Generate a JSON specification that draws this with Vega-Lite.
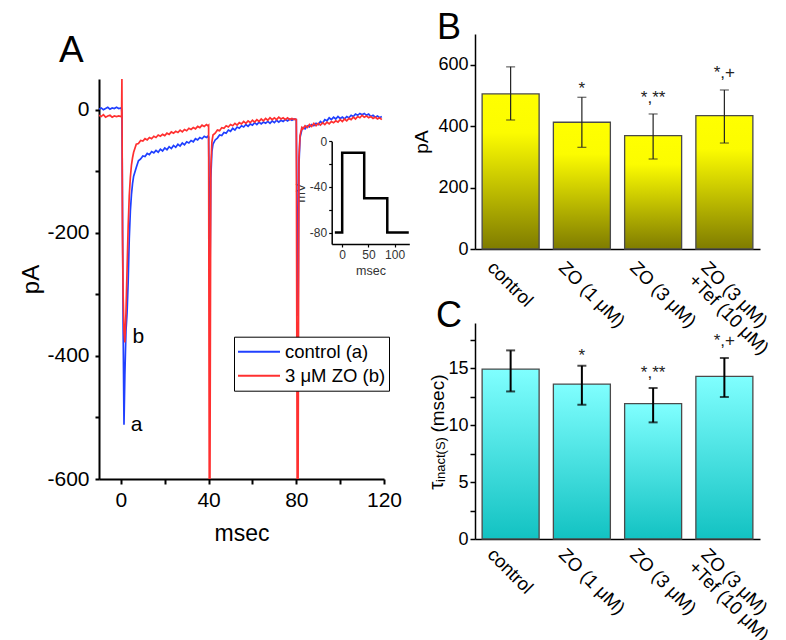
{
"$schema":"https://vega.github.io/schema/vega-lite/v6.json",
"padding":{"left":19,"top":10,"right":5,"bottom":5},
"background":"white",
"config":{
  "font":"Liberation Sans",
  "view":{"stroke":null},
  "axis":{"grid":false,"domainColor":"black","tickColor":"black","labelColor":"black","titleColor":"black","titleFontWeight":"normal","labelFlush":false,"labelOverlap":false,"labelFont":"Liberation Sans","titleFont":"Liberation Sans"},
  "legend":{"labelFont":"Liberation Sans"},
  "title":{"font":"Liberation Sans","fontWeight":"normal","color":"black"},
  "text":{"font":"Liberation Sans"}
},
"bounds":"flush",
"spacing":91,
"hconcat":[
{
"width":285,"height":445,
"title":{"text":"A","anchor":"start","frame":"group","fontSize":37,"dx":-40,"dy":65,"baseline":"alphabetic","offset":0},
"layer":[
 {"layer":[
   {"data":{"values":[
{"t":-10,"c":1,"z":-9},{"t":-9,"c":3,"z":-11},{"t":-8,"c":0,"z":-8},{"t":-7,"c":2,"z":-12},{"t":-6,"c":4,"z":-10},{"t":-5,"c":1,"z":-9},{"t":-4,"c":3,"z":-12},{"t":-3,"c":2,"z":-10},{"t":-2,"c":4,"z":-11},{"t":-1,"c":2,"z":-10},{"t":0,"c":3,"z":-11},{"t":0.3,"c":1,"z":-10},{"t":0.45,"c":-5,"z":50},{"t":0.7,"c":-150,"z":-200},{"t":1.0,"c":-350,"z":-300},{"t":1.4,"c":-512,"z":-360},{"t":1.8,"c":-430,"z":-378},{"t":2.3,"c":-360,"z":-330},{"t":2.8,"c":-330,"z":-260},{"t":3.3,"c":-280,"z":-190},{"t":3.8,"c":-210,"z":-140},{"t":4.3,"c":-165,"z":-110},{"t":4.8,"c":-138,"z":-90},{"t":5.3,"c":-120,"z":-78},{"t":5.8,"c":-108,"z":-69},
{"t":7,"c":-94,"z":-56},{"t":8,"c":-83,"z":-55},{"t":9,"c":-80,"z":-50},{"t":10,"c":-75,"z":-51},{"t":11,"c":-76,"z":-47},{"t":12,"c":-71,"z":-49},{"t":13,"c":-73,"z":-45},{"t":14,"c":-68,"z":-47},{"t":15,"c":-70,"z":-43},{"t":16,"c":-66,"z":-45},{"t":17,"c":-69,"z":-41},{"t":18,"c":-64,"z":-43},{"t":19,"c":-67,"z":-40},{"t":20,"c":-62,"z":-42},{"t":21,"c":-65,"z":-38},{"t":22,"c":-60,"z":-40},{"t":23,"c":-63,"z":-36},{"t":24,"c":-58,"z":-38},{"t":25,"c":-61,"z":-35},{"t":26,"c":-56,"z":-37},{"t":27,"c":-59,"z":-33},{"t":28,"c":-54,"z":-36},{"t":29,"c":-57,"z":-32},{"t":30,"c":-52,"z":-34},{"t":31,"c":-54,"z":-30},{"t":32,"c":-50,"z":-32},{"t":33,"c":-52,"z":-29},{"t":34,"c":-47,"z":-31},{"t":35,"c":-49,"z":-27},{"t":36,"c":-45,"z":-29},{"t":37,"c":-47,"z":-25},{"t":38,"c":-43,"z":-27},{"t":39,"c":-45,"z":-24},{"t":39.7,"c":-43,"z":-26},{"t":40,"c":-44,"z":-25},{"t":40.3,"c":-150,"z":-620},{"t":40.6,"c":-285,"z":-620},{"t":41,"c":-110,"z":-95},{"t":41.5,"c":-68,"z":-52},{"t":42,"c":-56,"z":-41},{"t":43,"c":-49,"z":-38},{"t":44,"c":-46,"z":-33},{"t":45,"c":-41,"z":-34},{"t":46,"c":-42,"z":-29},{"t":47,"c":-37,"z":-30},{"t":48,"c":-38,"z":-26},{"t":49,"c":-33,"z":-28},{"t":50,"c":-35,"z":-24},{"t":51,"c":-30,"z":-26},{"t":52,"c":-33,"z":-22},{"t":53,"c":-28,"z":-25},{"t":54,"c":-30,"z":-21},{"t":55,"c":-26,"z":-23},{"t":56,"c":-28,"z":-19},{"t":57,"c":-24,"z":-22},{"t":58,"c":-27,"z":-18},{"t":59,"c":-23,"z":-21},{"t":60,"c":-25,"z":-17},{"t":61,"c":-21,"z":-20},{"t":62,"c":-24,"z":-16},{"t":63,"c":-20,"z":-19},{"t":64,"c":-23,"z":-15},{"t":65,"c":-20,"z":-18},{"t":66,"c":-22,"z":-14},{"t":67,"c":-19,"z":-17},{"t":68,"c":-22,"z":-13},{"t":69,"c":-18,"z":-16},{"t":70,"c":-21,"z":-13},{"t":71,"c":-17,"z":-16},{"t":72,"c":-20,"z":-12},{"t":73,"c":-17,"z":-15},{"t":74,"c":-19,"z":-13},{"t":75,"c":-16,"z":-16},{"t":76,"c":-18,"z":-13},{"t":77,"c":-15,"z":-16},{"t":78,"c":-17,"z":-14},{"t":79,"c":-15,"z":-16},{"t":79.7,"c":-16,"z":-15},{"t":80,"c":-16,"z":-16},{"t":80.4,"c":-200,"z":-620},{"t":80.8,"c":-335,"z":-620},{"t":81.2,"c":-90,"z":-78},{"t":81.7,"c":-45,"z":-42},{"t":82.5,"c":-33,"z":-29},{"t":83,"c":-29,"z":-31},{"t":84,"c":-31,"z":-26},{"t":85,"c":-26,"z":-29},{"t":86,"c":-28,"z":-24},{"t":87,"c":-24,"z":-27},{"t":88,"c":-26,"z":-22},{"t":89,"c":-22,"z":-26},{"t":90,"c":-24,"z":-22},{"t":91,"c":-19,"z":-25},{"t":92,"c":-22,"z":-21},{"t":93,"c":-16,"z":-24},{"t":94,"c":-18,"z":-20},{"t":95,"c":-13,"z":-23},{"t":96,"c":-16,"z":-19},{"t":97,"c":-12,"z":-21},{"t":98,"c":-15,"z":-18},{"t":99,"c":-11,"z":-20},{"t":100,"c":-14,"z":-16},{"t":101,"c":-12,"z":-19},{"t":102,"c":-15,"z":-15},{"t":103,"c":-11,"z":-18},{"t":104,"c":-13,"z":-14},{"t":105,"c":-9,"z":-16},{"t":106,"c":-11,"z":-12},{"t":107,"c":-7,"z":-15},{"t":108,"c":-9,"z":-11},{"t":109,"c":-6,"z":-13},{"t":110,"c":-8,"z":-9},{"t":111,"c":-6,"z":-12},{"t":112,"c":-9,"z":-10},{"t":113,"c":-7,"z":-13},{"t":114,"c":-11,"z":-11},{"t":115,"c":-9,"z":-14},{"t":116,"c":-12,"z":-12},{"t":117,"c":-10,"z":-15},{"t":118,"c":-13,"z":-13},{"t":119,"c":-11,"z":-16}
   ]},
    "transform":[{"fold":["c","z"],"as":["s","v"]}],
    "mark":{"type":"line","strokeWidth":1.7,"clip":true},
    "encoding":{
      "x":{"field":"t","type":"quantitative","scale":{"domain":[-10,120],"nice":false,"zero":false},"axis":{"orient":"bottom","values":[0,20,40,60,80,100,120],"labelExpr":"datum.value % 40 == 0 ? datum.label : ''","title":"msec","labelFontSize":21,"titleFontSize":23,"tickSize":5,"tickWidth":2,"domainWidth":2,"labelPadding":5,"titlePadding":12}},
      "y":{"field":"v","type":"quantitative","scale":{"domain":[-600,50],"range":[445,45],"nice":false,"zero":false},"axis":{"orient":"left","values":[-600,-500,-400,-300,-200,-100,0],"labelExpr":"datum.value % 200 == 0 ? replace(datum.label, '−', '-') : ''","title":"pA","labelFontSize":21,"titleFontSize":24,"tickSize":4,"tickWidth":2,"domainWidth":2,"labelPadding":6,"titlePadding":3}},
      "color":{"field":"s","type":"nominal","scale":{"domain":["c","z"],"range":["#2040ff","#ff3030"]},"legend":{"orient":"none","legendX":135,"legendY":302.7,"title":null,"symbolType":"stroke","symbolSize":1764,"symbolStrokeWidth":2,"labelFontSize":18.5,"labelExpr":"datum.value == 'c' ? 'control (a)' : '3 μM ZO (b)'","strokeColor":"black","fillColor":"white","padding":3,"clipHeight":24,"rowPadding":0,"labelOffset":4}}
    }},
   {"data":{"values":[{"t":7.9,"v":-369,"lab":"b"},{"t":7.1,"v":-513,"lab":"a"}]},
    "mark":{"type":"text","fontSize":21,"align":"center","baseline":"middle","color":"black"},
    "encoding":{"x":{"field":"t","type":"quantitative"},"y":{"field":"v","type":"quantitative"},"text":{"field":"lab"}}}
 ]},
 {"data":{"values":[{"i":1,"t":-14,"mV":-80},{"i":2,"t":0,"mV":-80},{"i":3,"t":0,"mV":-10},{"i":4,"t":42,"mV":-10},{"i":5,"t":42,"mV":-50},{"i":6,"t":86,"mV":-50},{"i":7,"t":86,"mV":-80},{"i":8,"t":127,"mV":-80}]},
  "mark":{"type":"line","color":"black","strokeWidth":2.5},
  "encoding":{
    "x":{"field":"t","type":"quantitative","scale":{"domain":[-20,128],"range":[232.7,310.3],"nice":false,"zero":false},"axis":{"orient":"bottom","offset":-235,"values":[0,50,100],"title":"msec","labelFontSize":12,"titleFontSize":12.5,"labelColor":"#333","titleColor":"#333","tickSize":3,"tickWidth":1.2,"domainWidth":1.5,"labelPadding":2,"titlePadding":4}},
    "y":{"field":"mV","type":"quantitative","scale":{"domain":[-90,0],"range":[210,107.3],"nice":false,"zero":false},"axis":{"orient":"left","offset":-232.7,"values":[0,-20,-40,-60,-80],"labelExpr":"datum.value % 40 == 0 ? replace(datum.label, '−', '-') : ''","title":"mV","labelFontSize":12,"titleFontSize":12.5,"labelColor":"#333","titleColor":"#333","tickSize":3,"tickWidth":1.2,"domainWidth":1.5,"labelPadding":2,"titlePadding":2}},
    "order":{"field":"i","type":"quantitative"}
  }}
],
"resolve":{"scale":{"x":"independent","y":"independent"},"axis":{"x":"independent","y":"independent"}}
},
{"vconcat":[
{
"width":285,"height":215,
"title":{"text":"B","anchor":"start","frame":"group","fontSize":36,"dx":-38,"dy":41,"baseline":"alphabetic","offset":0},
"data":{"values":[
 {"g":"control","m":505,"lo":420,"hi":593,"note":"","ny":0},
 {"g":"ZO (1 μM)","m":412.6,"lo":331,"hi":494,"note":"*","ny":504.7},
 {"g":"ZO (3 μM)","m":369,"lo":293,"hi":439.6,"note":"*,**","ny":475},
 {"g":"ZO (3 μM)\n+Tef (10 μM)","m":434,"lo":345,"hi":517.7,"note":"*,+","ny":556.8}]},
"encoding":{"x":{"field":"g","type":"nominal","sort":null,"scale":{"paddingInner":0.2,"paddingOuter":0.1},"axis":{"title":null,"labelAngle":45,"labelAlign":"left","labelBaseline":"middle","labelOffset":-20,"labelPadding":15,"ticks":false,"tickSize":0,"labelFontSize":18.5,"labelLineHeight":18,"labelExpr":"split(datum.label, '\\n')","domainWidth":1.5}}},
"layer":[
 {"mark":{"type":"bar","fill":{"gradient":"linear","x1":0,"y1":0,"x2":0,"y2":1,"stops":[{"offset":0,"color":"#ffff00"},{"offset":0.25,"color":"#fcfc00"},{"offset":1,"color":"#7f7c00"}]},"stroke":"#4a4a4a","strokeWidth":1.3},
  "encoding":{"y":{"field":"m","type":"quantitative","title":"pA","scale":{"domain":[0,700],"nice":false},"axis":{"values":[0,100,200,300,400,500,600,700],"labelExpr":"datum.value % 200 == 0 ? datum.label : ''","titleFontSize":19,"labelFontSize":18,"tickSize":5,"tickWidth":1.5,"domainWidth":1.5,"labelPadding":2,"titlePadding":6}}}},
 {"mark":{"type":"rule","color":"#222","strokeWidth":1.2},"encoding":{"y":{"field":"lo","type":"quantitative","title":"pA"},"y2":{"field":"hi"}}},
 {"mark":{"type":"tick","color":"#222","thickness":1.2,"size":9},"encoding":{"y":{"field":"lo","type":"quantitative","title":"pA"}}},
 {"mark":{"type":"tick","color":"#222","thickness":1.2,"size":9},"encoding":{"y":{"field":"hi","type":"quantitative","title":"pA"}}},
 {"transform":[{"filter":"datum.note != ''"}],"mark":{"type":"text","fontSize":17,"align":"center","baseline":"alphabetic","color":"#222"},"encoding":{"y":{"field":"ny","type":"quantitative","title":"pA"},"text":{"field":"note"}}}
]
},
{
"width":285,"height":216,
"title":{"text":"C","anchor":"start","frame":"group","fontSize":36,"dx":-39,"dy":40,"baseline":"alphabetic","offset":0},
"data":{"values":[
 {"g":"control","m":14.95,"lo":12.98,"hi":16.59,"note":"","ny":0},
 {"g":"ZO (1 μM)","m":13.63,"lo":11.81,"hi":15.24,"note":"*","ny":15.62},
 {"g":"ZO (3 μM)","m":11.9,"lo":10.26,"hi":13.28,"note":"*,**","ny":14.19},
 {"g":"ZO (3 μM)\n+Tef (10 μM)","m":14.3,"lo":12.49,"hi":15.92,"note":"*,+","ny":16.97}]},
"encoding":{"x":{"field":"g","type":"nominal","sort":null,"scale":{"paddingInner":0.2,"paddingOuter":0.1},"axis":{"title":null,"labelAngle":45,"labelAlign":"left","labelBaseline":"middle","labelOffset":-20,"labelPadding":12,"ticks":false,"tickSize":0,"labelFontSize":18.5,"labelLineHeight":18,"labelExpr":"split(datum.label, '\\n')","domainWidth":1.5}}},
"layer":[
 {"mark":{"type":"bar","fill":{"gradient":"linear","x1":0,"y1":0,"x2":0,"y2":1,"stops":[{"offset":0,"color":"#80ffff"},{"offset":1,"color":"#12c2c2"}]},"stroke":"#4a4a4a","strokeWidth":1.3},
  "encoding":{"y":{"field":"m","type":"quantitative","scale":{"domain":[0,19],"nice":false},"axis":{"orient":"left","values":[0,2.5,5,7.5,10,12.5,15,17.5],"labelExpr":"datum.value % 5 == 0 ? datum.label : ''","title":"τ","titleFontSize":21,"titleX":-39,"titleY":162,"titleAngle":270,"titleAlign":"center","titleBaseline":"middle","labelFontSize":18,"tickSize":5,"tickWidth":1.5,"domainWidth":1.5,"labelPadding":2}}}},
 {"mark":{"type":"rule","color":"black","strokeWidth":2},"encoding":{"y":{"field":"lo","type":"quantitative","axis":{"orient":"left","domain":false,"ticks":false,"labels":false,"title":"inact(S)","titleFontSize":13,"titleX":-35,"titleY":136,"titleAngle":270,"titleAlign":"center","titleBaseline":"middle"}},"y2":{"field":"hi"}}},
 {"mark":{"type":"tick","color":"black","thickness":2,"size":9},"encoding":{"y":{"field":"lo","type":"quantitative","axis":null}}},
 {"mark":{"type":"tick","color":"black","thickness":2,"size":9},"encoding":{"y":{"field":"hi","type":"quantitative","axis":null}}},
 {"transform":[{"filter":"datum.note != ''"}],"mark":{"type":"text","fontSize":17,"align":"center","baseline":"alphabetic","color":"#222"},"encoding":{"y":{"field":"ny","type":"quantitative","axis":{"orient":"left","domain":false,"ticks":false,"labels":false,"title":"(msec)","titleFontSize":19,"titleX":-38,"titleY":80,"titleAngle":270,"titleAlign":"center","titleBaseline":"middle"}},"text":{"field":"note"}}}
],
"resolve":{"axis":{"y":"independent"}}
}
],"spacing":74,"bounds":"flush"}
]
}
